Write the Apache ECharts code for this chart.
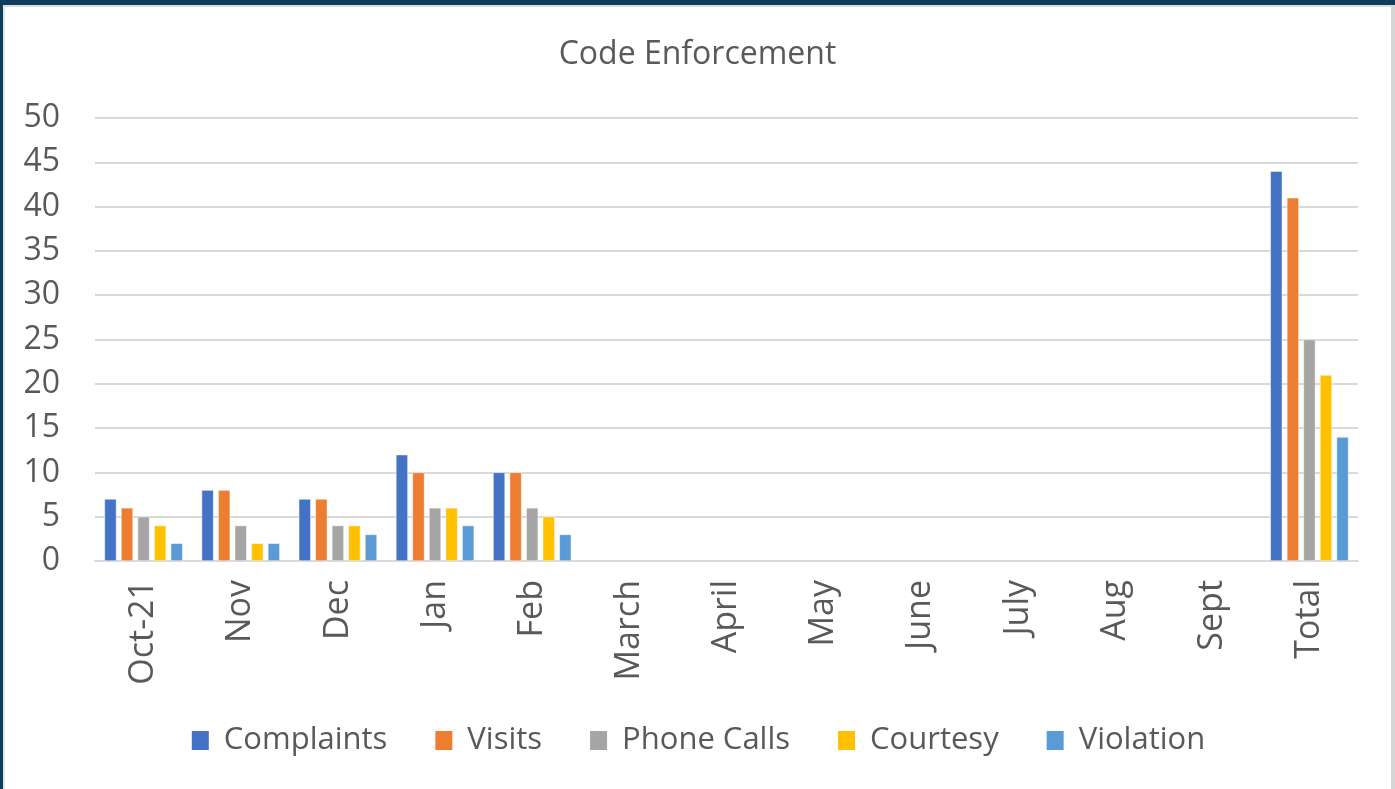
<!DOCTYPE html>
<html>
<head>
<meta charset="utf-8">
<script src="https://cdn.jsdelivr.net/npm/echarts@6/dist/echarts.min.js"></script>
<style>
html,body{margin:0;padding:0;background:#fff;}
#frame{position:absolute;left:0;top:0;width:1395px;height:789px;box-sizing:border-box;border-top:5px solid #0d3d5a;border-left:3px solid #0d3d5a;}
#inner{position:absolute;left:0;top:0;right:0;bottom:0;border-top:2px solid #dcdcdc;border-left:2px solid #e6e6e6;border-right:4px solid #d6d6d6;box-sizing:border-box;}
#chart{position:absolute;left:0;top:0;width:1395px;height:789px;}
</style>
</head>
<body>
<div id="frame"><div id="inner"></div></div>
<div id="chart"></div>
<script>
const categories = ['Oct-21','Nov','Dec','Jan','Feb','March','April','May','June','July','Aug','Sept','Total'];
const complaints = [7, 8, 7, 12, 10, null, null, null, null, null, null, null, 44];
const visits     = [6, 8, 7, 10, 10, null, null, null, null, null, null, null, 41];
const phoneCalls = [5, 4, 4, 6, 6, null, null, null, null, null, null, null, 25];
const courtesy   = [4, 2, 4, 6, 5, null, null, null, null, null, null, null, 21];
const violation  = [2, 2, 3, 4, 3, null, null, null, null, null, null, null, 14];
const seriesNames = ['Complaints','Visits','Phone Calls','Courtesy','Violation'];
const colors = ['#4472c4','#ed7d31','#a5a5a5','#ffc000','#5b9bd5'];
const seriesData = [complaints, visits, phoneCalls, courtesy, violation];

const font = '"Open Sans", "Noto Sans", sans-serif';
const chart = echarts.init(document.getElementById('chart'), null, {renderer:'canvas'});
chart.setOption({
  animation:false,
  color: colors,
  title:{
    text:'Code Enforcement', left:'center', top:34,
    textStyle:{fontFamily:font, fontSize:32, fontWeight:'normal', color:'#595959'}
  },
  legend:{
    top:720, left:'center', itemWidth:19, itemHeight:21, itemGap:46,
    icon:'rect',
    textStyle:{fontFamily:font, fontSize:31, color:'#595959', padding:[0,0,0,9]},
    data: seriesNames
  },
  grid:{left:95, right:37, top:118, bottom:228, containLabel:false},
  xAxis:{
    type:'category', data:categories,
    axisLine:{lineStyle:{color:'#d9d9d9', width:2}},
    axisTick:{show:false},
    axisLabel:{rotate:90, fontFamily:font, fontSize:34, color:'#595959', margin:19, interval:0}
  },
  yAxis:{
    type:'value', min:0, max:50, interval:5,
    axisLine:{show:false}, axisTick:{show:false},
    splitLine:{lineStyle:{color:'#d9d9d9', width:2}},
    axisLabel:{fontFamily:font, fontSize:32, color:'#595959', margin:35}
  },
  series: seriesNames.map((n,i)=>({
    name:n, type:'bar', data:seriesData[i],
    barWidth:12, barGap:'38%', barCategoryGap:'25%',
    itemStyle:{color:colors[i], borderColor:'#ffffff', borderWidth:0.5}
  }))
});
</script>
</body>
</html>
